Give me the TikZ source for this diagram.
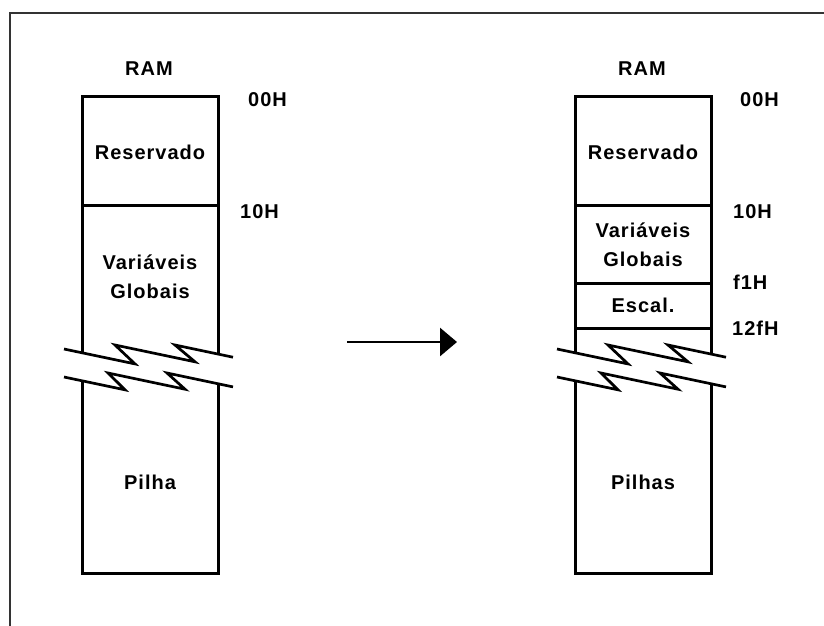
\documentclass[tikz,border=0pt]{standalone}
\usepackage{fontspec}
\setmainfont{Liberation Sans}[LetterSpace=5]
\usetikzlibrary{arrows.meta}
\begin{document}
\begin{tikzpicture}[x=1pt,y=-1pt,
  wall/.style={line width=3pt,line join=miter},
  zig/.style={line width=2.7pt,line join=miter},
  lbl/.style={font=\fontsize{20}{24}\selectfont\bfseries,inner sep=0pt,align=center},
  addr/.style={lbl,anchor=west}]
\useasboundingbox (0,0) rectangle (824,625);
\fill[white] (0,0) rectangle (824,625);
% outer frame, open to the right and bottom
\draw[line width=1.8pt,black!80] (10,630) -- (10,13) -- (830,13);

% memory column before the change
\begin{scope}
  \draw[wall] (82.5,352.9) -- (82.5,96) -- (218.5,96) -- (218.5,354.1);
  \draw[wall] (82.5,205) -- (218.5,205);
  \draw[wall] (82.5,380.9) -- (82.5,573) -- (218.5,573) -- (218.5,383.8);
  \draw[zig] (64,349) -- (135,363.9) -- (115,345) -- (195,361.8) -- (175,345) -- (233,357.2);
  \draw[zig] (64,377) -- (125,389.8) -- (108,373) -- (185,389.2) -- (167,373) -- (233,386.9);
  \node[lbl] (ramA) at (149,69) {RAM};
  \node[lbl] (resA) at (150,152) {Reservado};
  \node[lbl] (varA) at (150,277) {Variáveis\\[5pt]Globais};
  \node[lbl] (pilA) at (150,482) {Pilha};
  \node[addr] (a00A) at (248,100) {00H};
  \node[addr] (a10A) at (240,212) {10H};
\end{scope}

% memory column after the change
\begin{scope}[xshift=493pt]
  \draw[wall] (82.5,352.9) -- (82.5,96) -- (218.5,96) -- (218.5,354.1);
  \draw[wall] (82.5,205) -- (218.5,205);
  \draw[wall] (82.5,283) -- (218.5,283);
  \draw[wall] (82.5,328.5) -- (218.5,328.5);
  \draw[wall] (82.5,380.9) -- (82.5,573) -- (218.5,573) -- (218.5,383.8);
  \draw[zig] (64,349) -- (135,363.9) -- (115,345) -- (195,361.8) -- (175,345) -- (233,357.2);
  \draw[zig] (64,377) -- (125,389.8) -- (108,373) -- (185,389.2) -- (167,373) -- (233,386.9);
  \node[lbl] (ramB) at (149,69) {RAM};
  \node[lbl] (resB) at (150,152) {Reservado};
  \node[lbl] (varB) at (150,245) {Variáveis\\[5pt]Globais};
  \node[lbl] (escB) at (150,305) {Escal.};
  \node[lbl] (pilB) at (150,482) {Pilhas};
  \node[addr] (a00B) at (247,100) {00H};
  \node[addr] (a10B) at (240,212) {10H};
  \node[addr] (af1B) at (240,282) {f1H};
  \node[addr] (a12B) at (239,328) {12fH};
\end{scope}

% transition arrow
\coordinate (arrS) at (347,342);
\coordinate (arrE) at (457,342);
\draw[line width=2.8pt,-{Triangle[length=17pt,width=28pt]}] (arrS) -- (arrE);
\end{tikzpicture}
\end{document}
